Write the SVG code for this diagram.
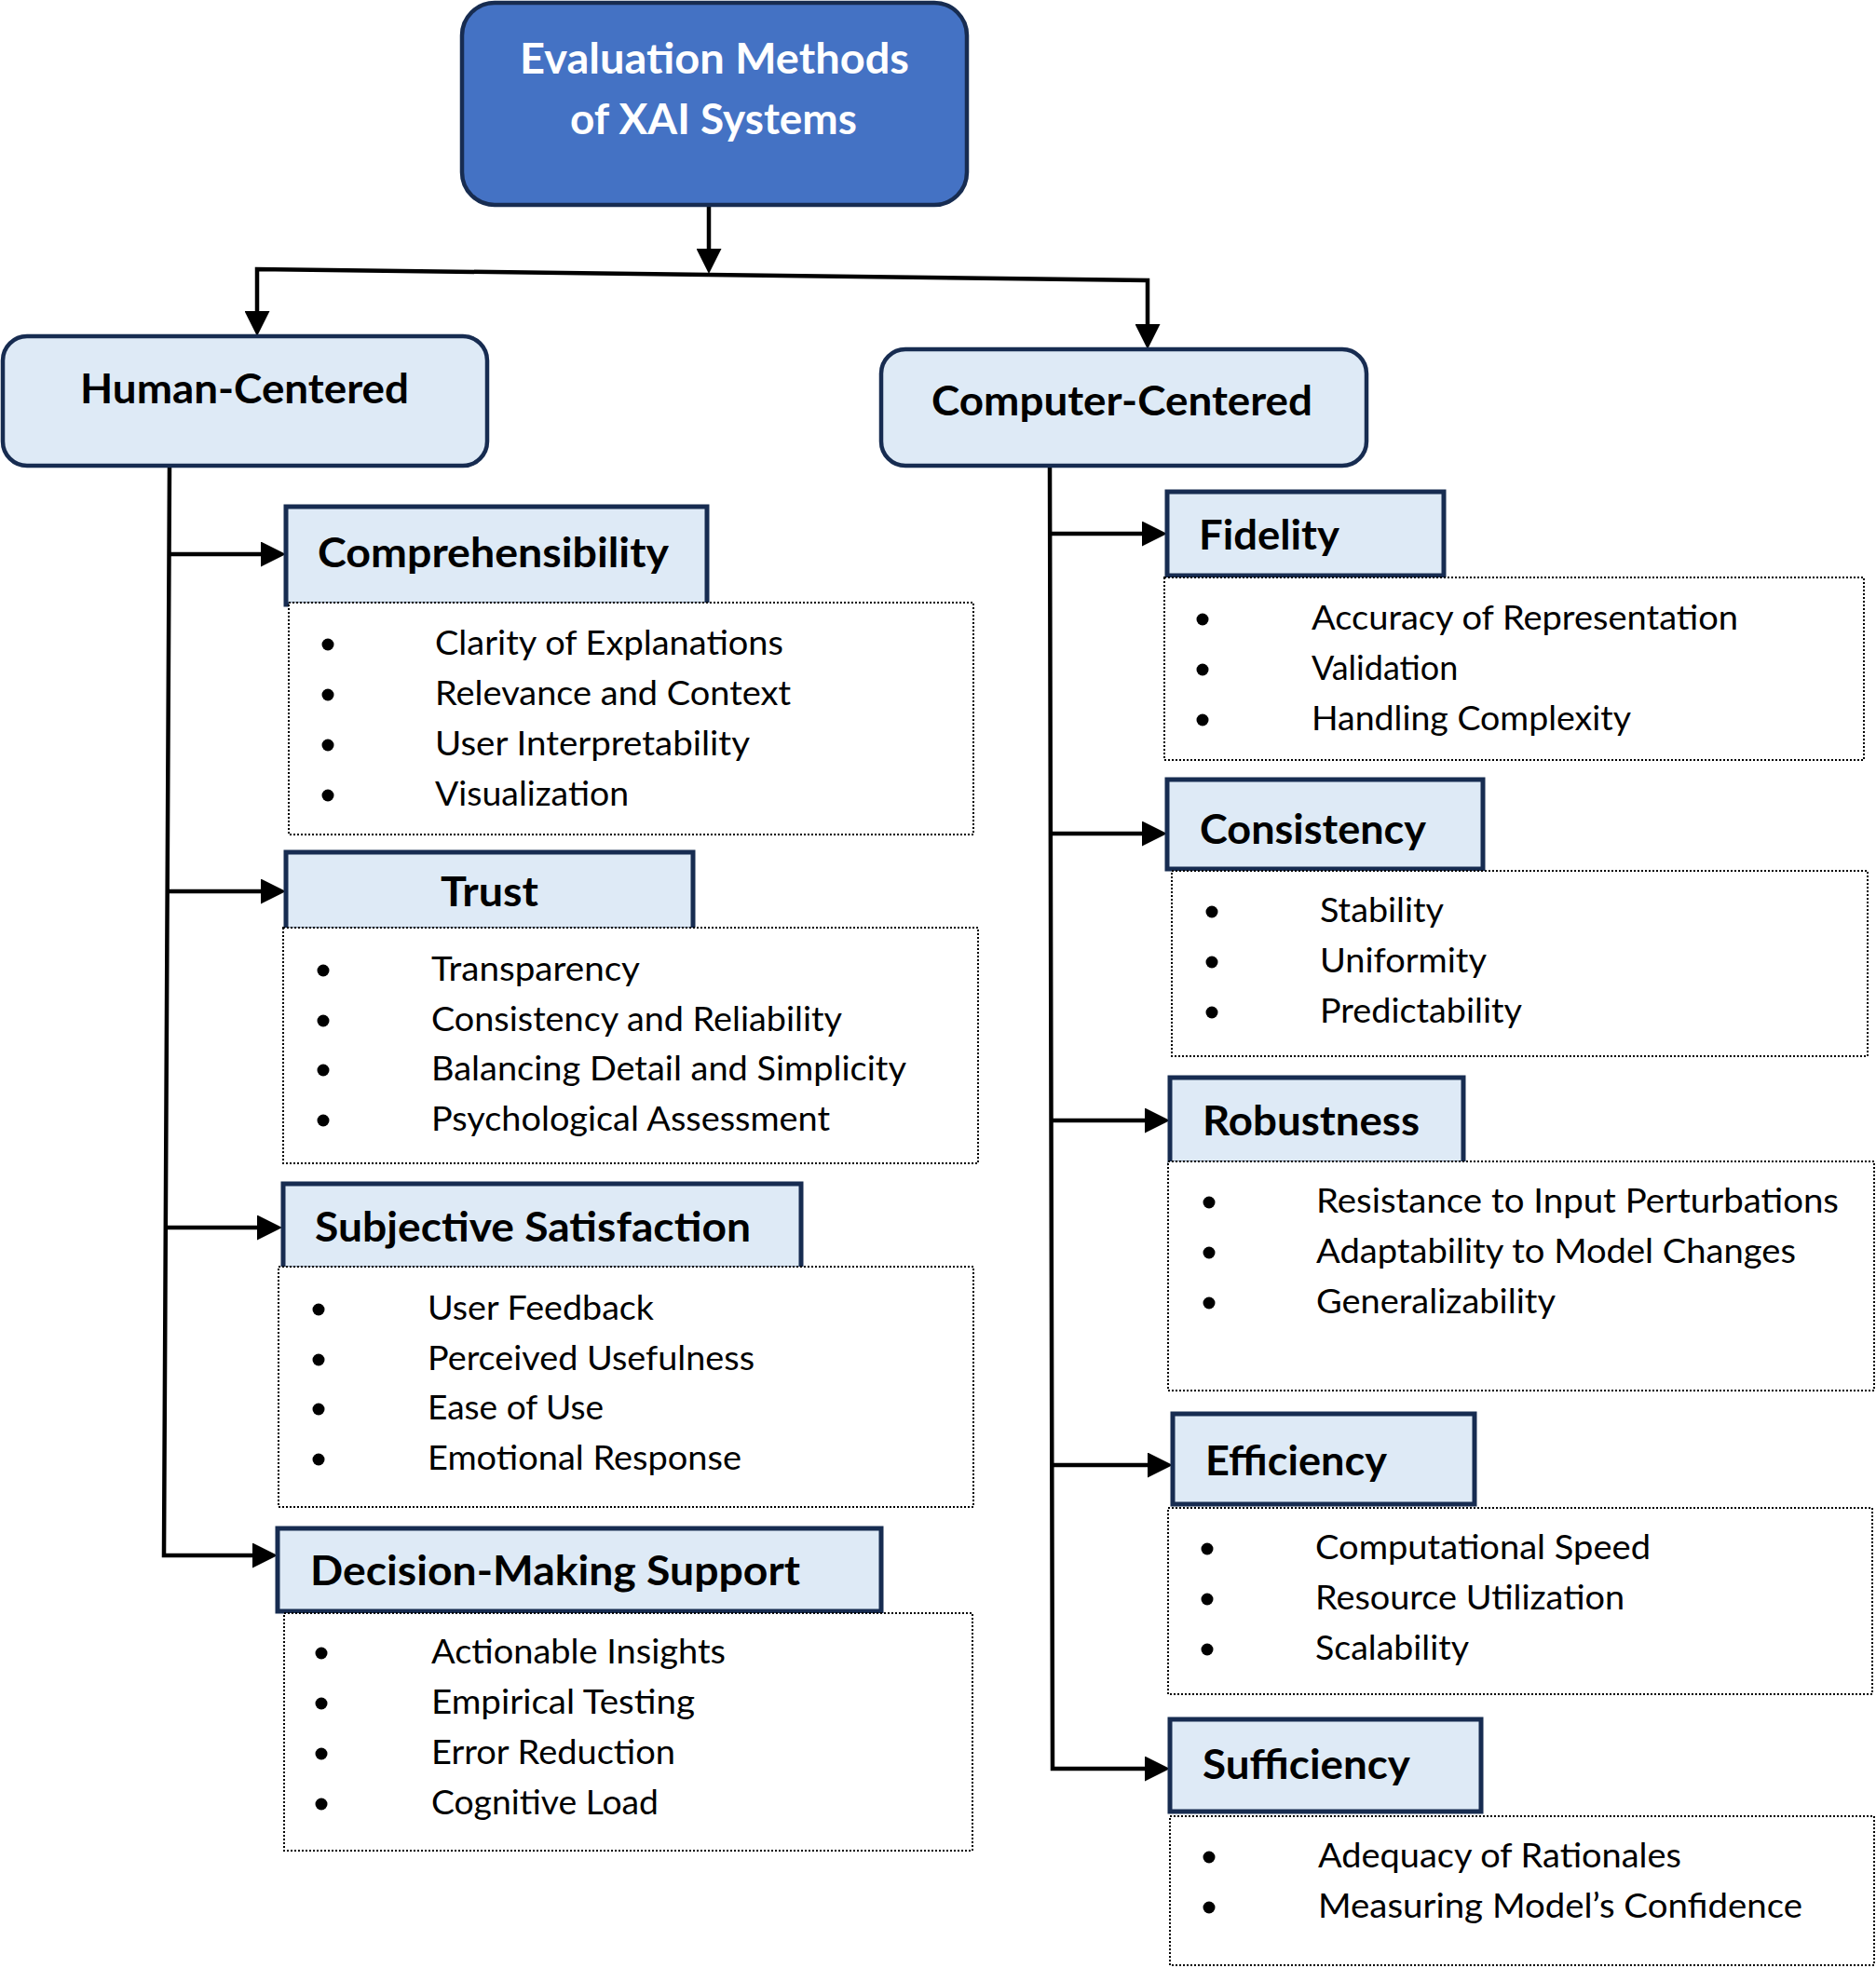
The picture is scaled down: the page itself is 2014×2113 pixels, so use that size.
<svg xmlns="http://www.w3.org/2000/svg" width="2014" height="2113" viewBox="0 0 2014 2113">
<style>
  .bg{fill:#ffffff}
  .root{fill:#4472C4;stroke:#172C51;stroke-width:4.5}
  .cat{fill:#DEEAF6;stroke:#172C51;stroke-width:4.5}
  .head{fill:#DEEAF6;stroke:#172C51;stroke-width:5}
  .list{fill:#ffffff;stroke:#000000;stroke-width:2;stroke-dasharray:2 2}
  .conn{fill:none;stroke:#000000;stroke-width:4.5;stroke-linejoin:miter}
  .rt{font-family:Lato,'Open Sans','DejaVu Sans',sans-serif;font-weight:700;font-size:45px;fill:#ffffff}
  .ht{font-family:Lato,'Open Sans','DejaVu Sans',sans-serif;font-weight:700;font-size:44px;fill:#000000}
  .it{font-family:Lato,'Open Sans','DejaVu Sans',sans-serif;font-weight:400;font-size:36px;fill:#000000}
  .dot{fill:#000000}
</style>
<defs>
  <marker id="arr" markerUnits="userSpaceOnUse" markerWidth="27" markerHeight="27" viewBox="0 0 27 27" refX="17" refY="13.5" orient="auto">
    <path d="M0,0 L27,13.5 L0,27 Z" fill="#000000"/>
  </marker>
</defs>
<rect class="bg" x="0" y="0" width="2014" height="2113"/>

<g id="connectors">
  <path class="conn" d="M761,220 L761,284" marker-end="url(#arr)"/>
  <path class="conn" d="M761,295 L276,289 L276,351" marker-end="url(#arr)"/>
  <path class="conn" d="M761,295 L1232,301 L1232,365" marker-end="url(#arr)"/>
  <path class="conn" d="M182,500 L176,1670 L288,1670" marker-end="url(#arr)"/>
  <path class="conn" d="M181.5,595 L297,595" marker-end="url(#arr)"/>
  <path class="conn" d="M179.7,957 L297,957" marker-end="url(#arr)"/>
  <path class="conn" d="M177.8,1318 L293,1318" marker-end="url(#arr)"/>
  <path class="conn" d="M1127,500 L1130,1899 L1246,1899" marker-end="url(#arr)"/>
  <path class="conn" d="M1127,573 L1243,573" marker-end="url(#arr)"/>
  <path class="conn" d="M1128,895 L1243,895" marker-end="url(#arr)"/>
  <path class="conn" d="M1128,1203 L1246,1203" marker-end="url(#arr)"/>
  <path class="conn" d="M1129,1573 L1249,1573" marker-end="url(#arr)"/>
</g>

<g id="root">
  <rect class="root" x="496" y="3" width="542" height="217" rx="35"/>
  <text class="rt" x="558" y="79" textLength="418" lengthAdjust="spacingAndGlyphs">Evaluation Methods</text>
  <text class="rt" x="612" y="144" textLength="308" lengthAdjust="spacingAndGlyphs">of XAI Systems</text>
</g>

<g id="human-centered">
  <rect class="cat" x="3" y="361" width="520" height="139" rx="26"/>
  <text class="ht" x="86" y="433" textLength="353" lengthAdjust="spacingAndGlyphs">Human-Centered</text>
</g>

<g id="computer-centered">
  <rect class="cat" x="946" y="375" width="521" height="125" rx="26"/>
  <text class="ht" x="1000" y="446" textLength="409" lengthAdjust="spacingAndGlyphs">Computer-Centered</text>
</g>

<g id="comprehensibility">
  <rect class="head" x="307" y="544" width="452" height="105"/>
  <text class="ht" x="341" y="609" textLength="377" lengthAdjust="spacingAndGlyphs">Comprehensibility</text>
  <rect class="list" x="310" y="647" width="735" height="249"/>
  <circle class="dot" cx="352" cy="692" r="6.5"/>
  <circle class="dot" cx="352" cy="746" r="6.5"/>
  <circle class="dot" cx="352" cy="800" r="6.5"/>
  <circle class="dot" cx="352" cy="854" r="6.5"/>
  <text class="it" x="467" y="703" textLength="374" lengthAdjust="spacingAndGlyphs">Clarity of Explanations</text>
  <text class="it" x="467" y="757" textLength="382" lengthAdjust="spacingAndGlyphs">Relevance and Context</text>
  <text class="it" x="467" y="811" textLength="338" lengthAdjust="spacingAndGlyphs">User Interpretability</text>
  <text class="it" x="467" y="865" textLength="208" lengthAdjust="spacingAndGlyphs">Visualization</text>
</g>

<g id="trust">
  <rect class="head" x="307" y="915" width="437" height="83"/>
  <text class="ht" x="473" y="973" textLength="105" lengthAdjust="spacingAndGlyphs">Trust</text>
  <rect class="list" x="304" y="996" width="746" height="253"/>
  <circle class="dot" cx="347" cy="1042" r="6.5"/>
  <circle class="dot" cx="347" cy="1096" r="6.5"/>
  <circle class="dot" cx="347" cy="1149" r="6.5"/>
  <circle class="dot" cx="347" cy="1203" r="6.5"/>
  <text class="it" x="463" y="1053" textLength="224" lengthAdjust="spacingAndGlyphs">Transparency</text>
  <text class="it" x="463" y="1107" textLength="441" lengthAdjust="spacingAndGlyphs">Consistency and Reliability</text>
  <text class="it" x="463" y="1160" textLength="510" lengthAdjust="spacingAndGlyphs">Balancing Detail and Simplicity</text>
  <text class="it" x="463" y="1214" textLength="428" lengthAdjust="spacingAndGlyphs">Psychological Assessment</text>
</g>

<g id="subjective-satisfaction">
  <rect class="head" x="304" y="1271" width="556" height="91"/>
  <text class="ht" x="338" y="1333" textLength="468" lengthAdjust="spacingAndGlyphs">Subjective Satisfaction</text>
  <rect class="list" x="299" y="1360" width="746" height="258"/>
  <circle class="dot" cx="342" cy="1406" r="6.5"/>
  <circle class="dot" cx="342" cy="1460" r="6.5"/>
  <circle class="dot" cx="342" cy="1513" r="6.5"/>
  <circle class="dot" cx="342" cy="1567" r="6.5"/>
  <text class="it" x="459" y="1417" textLength="243" lengthAdjust="spacingAndGlyphs">User Feedback</text>
  <text class="it" x="459" y="1471" textLength="351" lengthAdjust="spacingAndGlyphs">Perceived Usefulness</text>
  <text class="it" x="459" y="1524" textLength="189" lengthAdjust="spacingAndGlyphs">Ease of Use</text>
  <text class="it" x="459" y="1578" textLength="337" lengthAdjust="spacingAndGlyphs">Emotional Response</text>
</g>

<g id="decision-making-support">
  <rect class="head" x="298" y="1641" width="648" height="89"/>
  <text class="ht" x="333" y="1702" textLength="526" lengthAdjust="spacingAndGlyphs">Decision-Making Support</text>
  <rect class="list" x="305" y="1732" width="739" height="255"/>
  <circle class="dot" cx="345" cy="1775" r="6.5"/>
  <circle class="dot" cx="345" cy="1829" r="6.5"/>
  <circle class="dot" cx="345" cy="1883" r="6.5"/>
  <circle class="dot" cx="345" cy="1937" r="6.5"/>
  <text class="it" x="463" y="1786" textLength="316" lengthAdjust="spacingAndGlyphs">Actionable Insights</text>
  <text class="it" x="463" y="1840" textLength="283" lengthAdjust="spacingAndGlyphs">Empirical Testing</text>
  <text class="it" x="463" y="1894" textLength="262" lengthAdjust="spacingAndGlyphs">Error Reduction</text>
  <text class="it" x="463" y="1948" textLength="244" lengthAdjust="spacingAndGlyphs">Cognitive Load</text>
</g>

<g id="fidelity">
  <rect class="head" x="1253" y="528" width="297" height="90"/>
  <text class="ht" x="1287" y="590" textLength="151" lengthAdjust="spacingAndGlyphs">Fidelity</text>
  <rect class="list" x="1250" y="620" width="751" height="196"/>
  <circle class="dot" cx="1291" cy="665" r="6.5"/>
  <circle class="dot" cx="1291" cy="719" r="6.5"/>
  <circle class="dot" cx="1291" cy="773" r="6.5"/>
  <text class="it" x="1408" y="676" textLength="458" lengthAdjust="spacingAndGlyphs">Accuracy of Representation</text>
  <text class="it" x="1408" y="730">Validation</text>
  <text class="it" x="1408" y="784" textLength="343" lengthAdjust="spacingAndGlyphs">Handling Complexity</text>
</g>

<g id="consistency">
  <rect class="head" x="1253" y="837" width="339" height="96"/>
  <text class="ht" x="1288" y="906" textLength="243" lengthAdjust="spacingAndGlyphs">Consistency</text>
  <rect class="list" x="1258" y="935" width="747" height="199"/>
  <circle class="dot" cx="1301" cy="979" r="6.5"/>
  <circle class="dot" cx="1301" cy="1033" r="6.5"/>
  <circle class="dot" cx="1301" cy="1087" r="6.5"/>
  <text class="it" x="1417" y="990" textLength="133" lengthAdjust="spacingAndGlyphs">Stability</text>
  <text class="it" x="1417" y="1044" textLength="179" lengthAdjust="spacingAndGlyphs">Uniformity</text>
  <text class="it" x="1417" y="1098" textLength="217" lengthAdjust="spacingAndGlyphs">Predictability</text>
</g>

<g id="robustness">
  <rect class="head" x="1256" y="1157" width="315" height="92"/>
  <text class="ht" x="1291" y="1219" textLength="233" lengthAdjust="spacingAndGlyphs">Robustness</text>
  <rect class="list" x="1254" y="1247" width="758" height="246"/>
  <circle class="dot" cx="1298" cy="1291" r="6.5"/>
  <circle class="dot" cx="1298" cy="1345" r="6.5"/>
  <circle class="dot" cx="1298" cy="1399" r="6.5"/>
  <text class="it" x="1413" y="1302" textLength="561" lengthAdjust="spacingAndGlyphs">Resistance to Input Perturbations</text>
  <text class="it" x="1413" y="1356" textLength="515" lengthAdjust="spacingAndGlyphs">Adaptability to Model Changes</text>
  <text class="it" x="1413" y="1410" textLength="257" lengthAdjust="spacingAndGlyphs">Generalizability</text>
</g>

<g id="efficiency">
  <rect class="head" x="1259" y="1518" width="324" height="97"/>
  <text class="ht" x="1294" y="1584" textLength="195" lengthAdjust="spacingAndGlyphs">Efficiency</text>
  <rect class="list" x="1254" y="1619" width="756" height="200"/>
  <circle class="dot" cx="1296" cy="1663" r="6.5"/>
  <circle class="dot" cx="1296" cy="1717" r="6.5"/>
  <circle class="dot" cx="1296" cy="1771" r="6.5"/>
  <text class="it" x="1412" y="1674" textLength="360" lengthAdjust="spacingAndGlyphs">Computational Speed</text>
  <text class="it" x="1412" y="1728" textLength="332" lengthAdjust="spacingAndGlyphs">Resource Utilization</text>
  <text class="it" x="1412" y="1782" textLength="165" lengthAdjust="spacingAndGlyphs">Scalability</text>
</g>

<g id="sufficiency">
  <rect class="head" x="1256" y="1846" width="334" height="99"/>
  <text class="ht" x="1291" y="1910" textLength="223" lengthAdjust="spacingAndGlyphs">Sufficiency</text>
  <rect class="list" x="1256" y="1950" width="756" height="160"/>
  <circle class="dot" cx="1298" cy="1994" r="6.5"/>
  <circle class="dot" cx="1298" cy="2048" r="6.5"/>
  <text class="it" x="1415" y="2005" textLength="390" lengthAdjust="spacingAndGlyphs">Adequacy of Rationales</text>
  <text class="it" x="1415" y="2059" textLength="520" lengthAdjust="spacingAndGlyphs">Measuring Model’s Confidence</text>
</g>
</svg>
